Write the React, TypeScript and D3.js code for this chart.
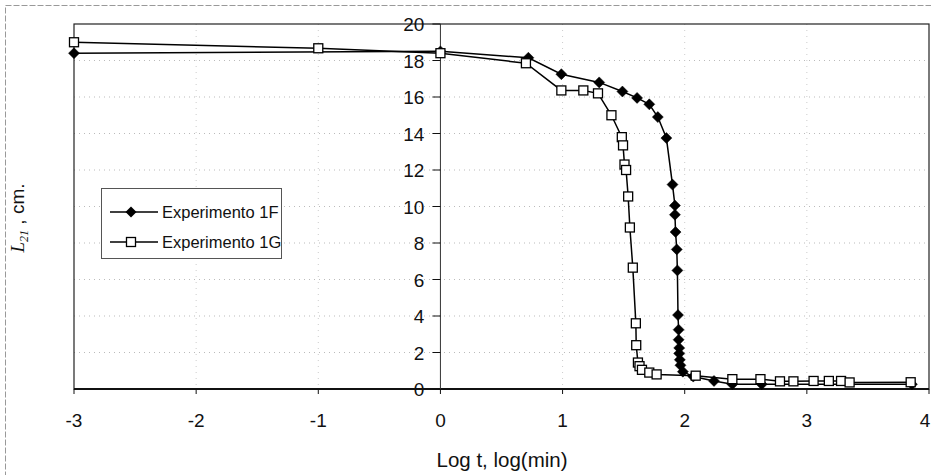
import React from "react";
import * as d3 from "d3";

const seriesNames = ["Experimento 1F", "Experimento 1G"];

const x1F = [-3, 0, 0.72, 0.99, 1.3, 1.49, 1.61, 1.71, 1.78, 1.85, 1.9, 1.92, 1.92, 1.925, 1.935, 1.94, 1.945, 1.95, 1.95, 1.955, 1.955, 1.96, 1.965, 1.985, 2.07, 2.24, 2.39, 2.63, 3.86];
const y1F = [18.4, 18.5, 18.15, 17.25, 16.8, 16.3, 15.95, 15.6, 14.9, 13.75, 11.2, 10.05, 9.55, 8.6, 7.65, 6.5, 4.05, 3.25, 2.7, 2.25, 1.95, 1.6, 1.3, 0.95, 0.68, 0.44, 0.26, 0.26, 0.26];

const x1G = [-3, -1, 0, 0.7, 0.99, 1.17, 1.29, 1.4, 1.485, 1.495, 1.507, 1.52, 1.537, 1.551, 1.575, 1.6, 1.603, 1.617, 1.63, 1.65, 1.71, 1.77, 2.09, 2.39, 2.62, 2.78, 2.89, 3.055, 3.18, 3.28, 3.35, 3.85];
const y1G = [19.0, 18.67, 18.4, 17.85, 16.36, 16.36, 16.2, 15.0, 13.8, 13.35, 12.3, 12.0, 10.55, 8.85, 6.65, 3.6, 2.4, 1.45, 1.25, 1.05, 0.9, 0.8, 0.73, 0.54, 0.54, 0.42, 0.42, 0.44, 0.44, 0.44, 0.36, 0.37];

const xTicks = [-3, -2, -1, 0, 1, 2, 3, 4];
const yTicks = [0, 2, 4, 6, 8, 10, 12, 14, 16, 18, 20];

export default function App() {
  const W = 931, H = 475;
  const x = d3.scaleLinear().domain([-3, 4]).range([74, 929]);
  const y = d3.scaleLinear().domain([0, 20]).range([389, 24]);
  const line = d3.line<[number, number]>().x(d => x(d[0])).y(d => y(d[1]));
  const d1F: [number, number][] = x1F.map((v, i) => [v, y1F[i]]);
  const d1G: [number, number][] = x1G.map((v, i) => [v, y1G[i]]);
  const font = "'Liberation Sans', Arial, sans-serif";
  const serif = "'Liberation Serif', 'Times New Roman', serif";
  const diamond = (cx: number, cy: number, r = 5.5) =>
    `M${cx},${cy - r}L${cx + r},${cy}L${cx},${cy + r}L${cx - r},${cy}Z`;
  const x0 = x(0);

  return (
    <svg width={W} height={H} style={{ position: "absolute", left: 0, top: 0, background: "#fff" }}>
      <rect x={0} y={0} width={W} height={H} fill="#fff" />
      <rect x={5.5} y={5.5} width={W - 4} height={H + 10} fill="none" stroke="#999" strokeWidth={1} strokeDasharray="6,2" />
      {/* gridlines */}
      {yTicks.filter(t => t > 0 && t < 20).map(t => (
        <line key={"gy" + t} x1={x(-3)} x2={x(4)} y1={y(t)} y2={y(t)} stroke="#bbb" strokeWidth={1} strokeDasharray="1,4" />
      ))}
      {xTicks.filter(t => t > -3 && t < 4 && t !== 0).map(t => (
        <line key={"gx" + t} x1={x(t)} x2={x(t)} y1={y(20)} y2={y(0)} stroke="#ccc" strokeWidth={1} strokeDasharray="1,5" />
      ))}
      {/* plot frame */}
      <rect x={x(-3)} y={y(20)} width={x(4) - x(-3)} height={y(0) - y(20)} fill="none" stroke="#222" strokeWidth={1.2} />
      {/* x axis */}
      <line x1={x(-3)} x2={x(4)} y1={y(0)} y2={y(0)} stroke="#111" strokeWidth={2} />
      {xTicks.map(t => (
        <g key={"xt" + t}>
          <line x1={x(t)} x2={x(t)} y1={y(0)} y2={y(0) + 5} stroke="#111" strokeWidth={1} />
          <text x={Math.min(x(t), 925)} y={427} textAnchor="middle" fontFamily={font} fontSize={19} fill="#111">{t}</text>
        </g>
      ))}
      {/* y axis at x=0 */}
      <line x1={x0} x2={x0} y1={y(20)} y2={y(0)} stroke="#333" strokeWidth={1} />
      {yTicks.map(t => (
        <g key={"yt" + t}>
          <line x1={x0 - 8} x2={x0} y1={y(t)} y2={y(t)} stroke="#111" strokeWidth={1} />
          <text x={x0 - 16} y={y(t) + 7} textAnchor="end" fontFamily={font} fontSize={19} fill="#111">{t}</text>
        </g>
      ))}
      {/* series lines */}
      <path d={line(d1F) || ""} fill="none" stroke="#000" strokeWidth={1.5} />
      <path d={line(d1G) || ""} fill="none" stroke="#000" strokeWidth={1.5} />
      {d1F.map((d, i) => (
        <path key={"m1" + i} d={diamond(x(d[0]), y(d[1]))} fill="#000" stroke="#000" strokeWidth={0.5} />
      ))}
      {d1G.map((d, i) => (
        <rect key={"m2" + i} x={x(d[0]) - 4.5} y={y(d[1]) - 4.5} width={9} height={9} fill="#fff" stroke="#000" strokeWidth={1.3} />
      ))}
      {/* legend */}
      <rect x={101.5} y={188.5} width={180} height={70} fill="#fff" stroke="#555" strokeWidth={1} />
      <line x1={110} x2={158} y1={212} y2={212} stroke="#000" strokeWidth={1.5} />
      <path d={diamond(131, 212)} fill="#000" />
      <text x={162} y={218} fontFamily={font} fontSize={16.5} fill="#111">{seriesNames[0]}</text>
      <line x1={110} x2={158} y1={242} y2={242} stroke="#000" strokeWidth={1.5} />
      <rect x={126.5} y={237.5} width={9} height={9} fill="#fff" stroke="#000" strokeWidth={1.3} />
      <text x={162} y={248} fontFamily={font} fontSize={16.5} fill="#111">{seriesNames[1]}</text>
      {/* axis titles */}
      <text x={502} y={467} textAnchor="middle" fontFamily={font} fontSize={20.5} fill="#111">Log t, log(min)</text>
      <text transform="translate(24,218) rotate(-90)" textAnchor="middle" fontSize={19} fill="#111">
        <tspan fontFamily={serif} fontStyle="italic">L</tspan>
        <tspan fontFamily={serif} fontStyle="italic" fontSize={12} dy={4}>21</tspan>
        <tspan fontFamily={font} dy={-4}> , cm.</tspan>
      </text>
    </svg>
  );
}
